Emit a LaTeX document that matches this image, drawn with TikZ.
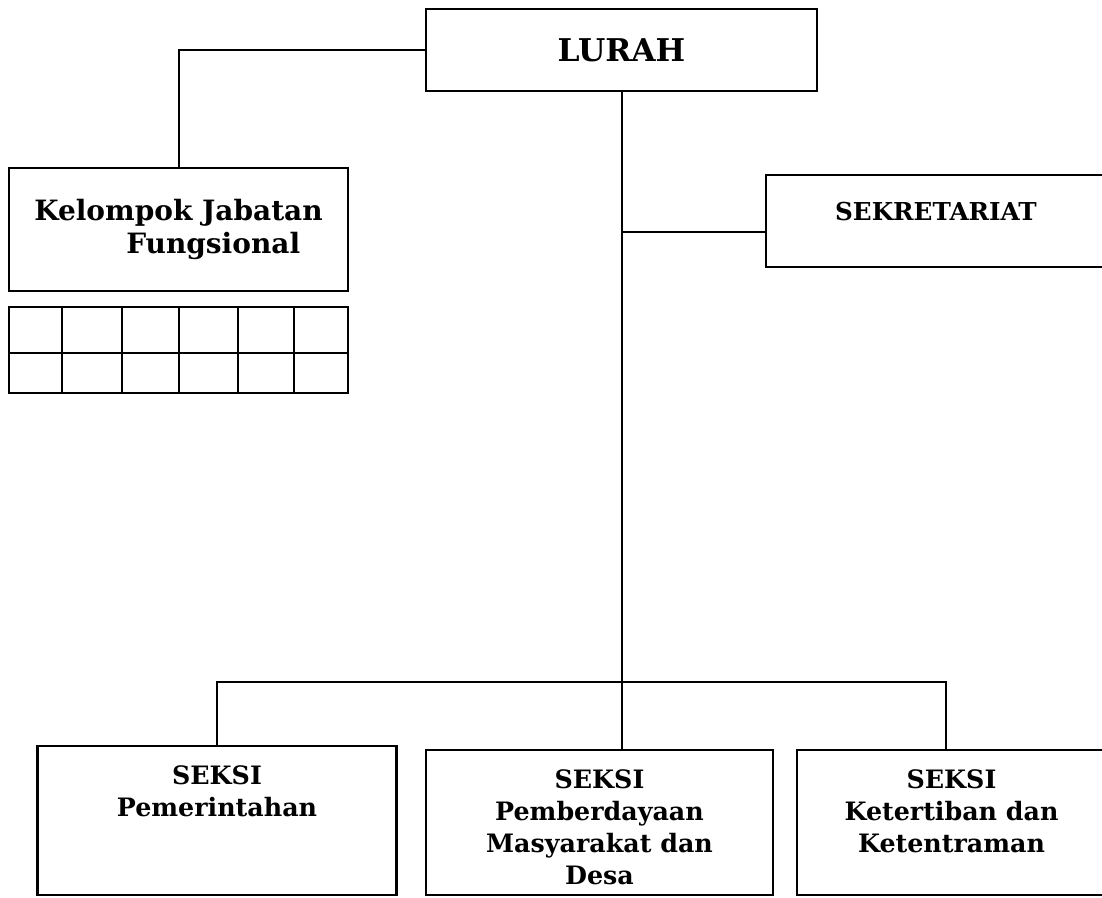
\documentclass[tikz,border=0pt]{standalone}
\usepackage{fontspec}
\setmainfont{DejaVu Serif}
\usetikzlibrary{positioning}

\tikzset{
  kotak/.style={draw=black, line width=1.6pt, shape=rectangle, inner sep=0pt},
  garis/.style={draw=black, line width=1.5pt},
  teks/.style={font=\bfseries\fontsize{19}{24}\selectfont, align=center, inner sep=0pt},
}

\begin{document}
\begin{tikzpicture}[x=0.75pt,y=-0.75pt]
\useasboundingbox (0,0) rectangle (1102,898);

% kotak atas
\node[kotak, minimum width=293.25pt, minimum height=61.5pt,
  font=\bfseries\fontsize{23.5}{26}\selectfont] (lurah) at (621.5,50) {LURAH};
\node[kotak, minimum width=254.25pt, minimum height=92.25pt, align=left,
  font=\bfseries\fontsize{21}{25}\selectfont] (kjf) at (178.5,229.5)
  {Kelompok Jabatan\\\hspace*{69pt}Fungsional};
\node[kotak, minimum width=255pt, minimum height=69pt] (sekr) at (936,221) {};
\node[teks, font=\bfseries\fontsize{18.5}{20}\selectfont,
  below=21pt of sekr.north] (ts) {SEKRETARIAT};

% tabel di bawah kelompok jabatan
\draw[garis] (9,307) rectangle (348,393);
\draw[garis] (9,353) -- (348,353);
\foreach \x in {62,122,179,238,294}
  \draw[garis] (\x,307) -- (\x,393);

% kotak seksi
\node[kotak, minimum width=269.25pt, minimum height=111.75pt] (seksi1) at (217,820.5) {};
\node[kotak, minimum width=260.25pt, minimum height=108.75pt] (seksi2) at (599.5,822.5) {};
\node[kotak, minimum width=231.75pt, minimum height=108.75pt] (seksi3) at (951.5,822.5) {};
\node[teks, below=15pt of seksi1.north] (t1) {SEKSI\\Pemerintahan};
\node[teks, below=15pt of seksi2.north] (t2) {SEKSI\\Pemberdayaan\\Masyarakat dan\\Desa};
\node[teks, below=15pt of seksi3.north] (t3) {SEKSI\\Ketertiban dan\\Ketentraman};

% garis
\coordinate (jS) at (622,232);
\coordinate (b3) at (946,682);
\draw[garis] (lurah.west) -| (kjf.north);
\draw[garis] (lurah.south) -- (lurah.south |- seksi2.north);
\draw[garis] (jS) -- (jS -| sekr.west);
\draw[garis] (seksi1.north) |- (b3) -- (b3 |- seksi3.north);
\end{tikzpicture}
\end{document}
